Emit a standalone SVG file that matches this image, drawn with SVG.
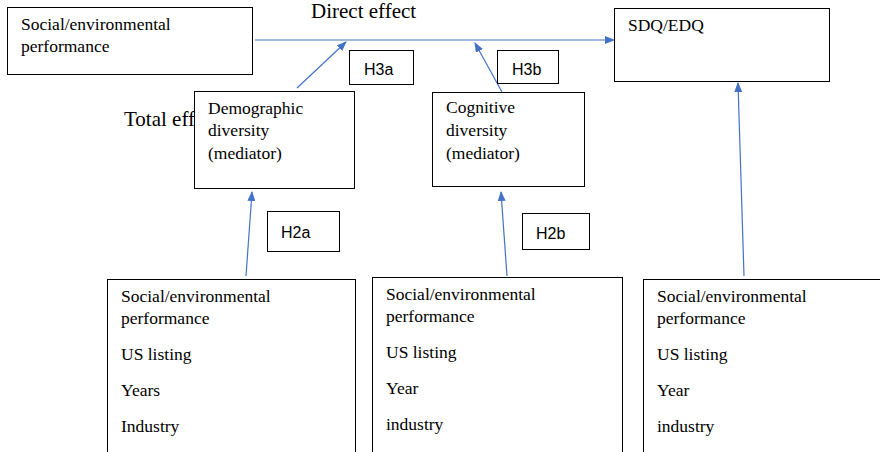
<svg xmlns="http://www.w3.org/2000/svg" width="880" height="452" viewBox="0 0 880 452">
<style>
.box{fill:#fff;stroke:#000;stroke-width:1}
.t{font-family:"Liberation Serif",serif;font-size:17.5px;fill:#000}
.big{font-family:"Liberation Serif",serif;font-size:21px;fill:#000}
.h{font-family:"Liberation Sans",sans-serif;font-size:16px;fill:#000}
.c{stroke:#4472C4;stroke-width:1.2;fill:none}
</style>
<defs>
<marker id="ah" markerWidth="10" markerHeight="8" refX="9" refY="4" orient="auto" markerUnits="userSpaceOnUse">
<path d="M0,0 L10,4 L0,8 Z" fill="#4472C4"/>
</marker>
</defs>
<rect width="880" height="452" fill="#fff"/>
<text class="big" x="311" y="18">Direct effect</text>
<text class="big" x="124" y="126">Total effect</text>
<g id="connectors">
<line class="c" x1="255" y1="40" x2="614" y2="40" marker-end="url(#ah)"/>
<line class="c" x1="297" y1="88" x2="346" y2="42" marker-end="url(#ah)"/>
<line class="c" x1="502" y1="92" x2="475" y2="43" marker-end="url(#ah)"/>
<line class="c" x1="246" y1="276" x2="252" y2="192" marker-end="url(#ah)"/>
<line class="c" x1="507" y1="276" x2="501" y2="192" marker-end="url(#ah)"/>
<line class="c" x1="744" y1="276" x2="738" y2="83" marker-end="url(#ah)"/>
</g>
<g id="sep">
<rect class="box" x="7.5" y="7.5" width="245" height="67"/>
<text class="t" x="21" y="30">Social/environmental</text>
<text class="t" x="21" y="52">performance</text>
</g>
<g id="sdq">
<rect class="box" x="614.5" y="8.5" width="215" height="73"/>
<text class="t" x="628" y="31">SDQ/EDQ</text>
</g>
<g id="h3a">
<rect class="box" x="349.5" y="50.5" width="64" height="34"/>
<text class="h" x="364" y="75">H3a</text>
</g>
<g id="h3b">
<rect class="box" x="497.5" y="50.5" width="61" height="33"/>
<text class="h" x="512" y="75">H3b</text>
</g>
<g id="demo">
<rect class="box" x="194.5" y="91.5" width="160" height="97"/>
<text class="t" x="208" y="114">Demographic</text>
<text class="t" x="208" y="136">diversity</text>
<text class="t" x="208" y="159">(mediator)</text>
</g>
<g id="cog">
<rect class="box" x="432.5" y="92.5" width="152" height="94"/>
<text class="t" x="446" y="113">Cognitive</text>
<text class="t" x="446" y="136">diversity</text>
<text class="t" x="446" y="159">(mediator)</text>
</g>
<g id="h2a">
<rect class="box" x="267.5" y="211.5" width="72" height="40"/>
<text class="h" x="281" y="238">H2a</text>
</g>
<g id="h2b">
<rect class="box" x="522.5" y="213.5" width="67" height="36"/>
<text class="h" x="536" y="239">H2b</text>
</g>
<g id="ctrlA">
<rect class="box" x="107.5" y="279.5" width="248" height="190"/>
<text class="t" x="121" y="302">Social/environmental</text>
<text class="t" x="121" y="324">performance</text>
<text class="t" x="121" y="360">US listing</text>
<text class="t" x="121" y="396">Years</text>
<text class="t" x="121" y="432">Industry</text>
</g>
<g id="ctrlB">
<rect class="box" x="372.5" y="277.5" width="250" height="190"/>
<text class="t" x="386" y="300">Social/environmental</text>
<text class="t" x="386" y="322">performance</text>
<text class="t" x="386" y="358">US listing</text>
<text class="t" x="386" y="394">Year</text>
<text class="t" x="386" y="430">industry</text>
</g>
<g id="ctrlC">
<rect class="box" x="643.5" y="279.5" width="250" height="190"/>
<text class="t" x="657" y="302">Social/environmental</text>
<text class="t" x="657" y="324">performance</text>
<text class="t" x="657" y="360">US listing</text>
<text class="t" x="657" y="396">Year</text>
<text class="t" x="657" y="432">industry</text>
</g>
</svg>
